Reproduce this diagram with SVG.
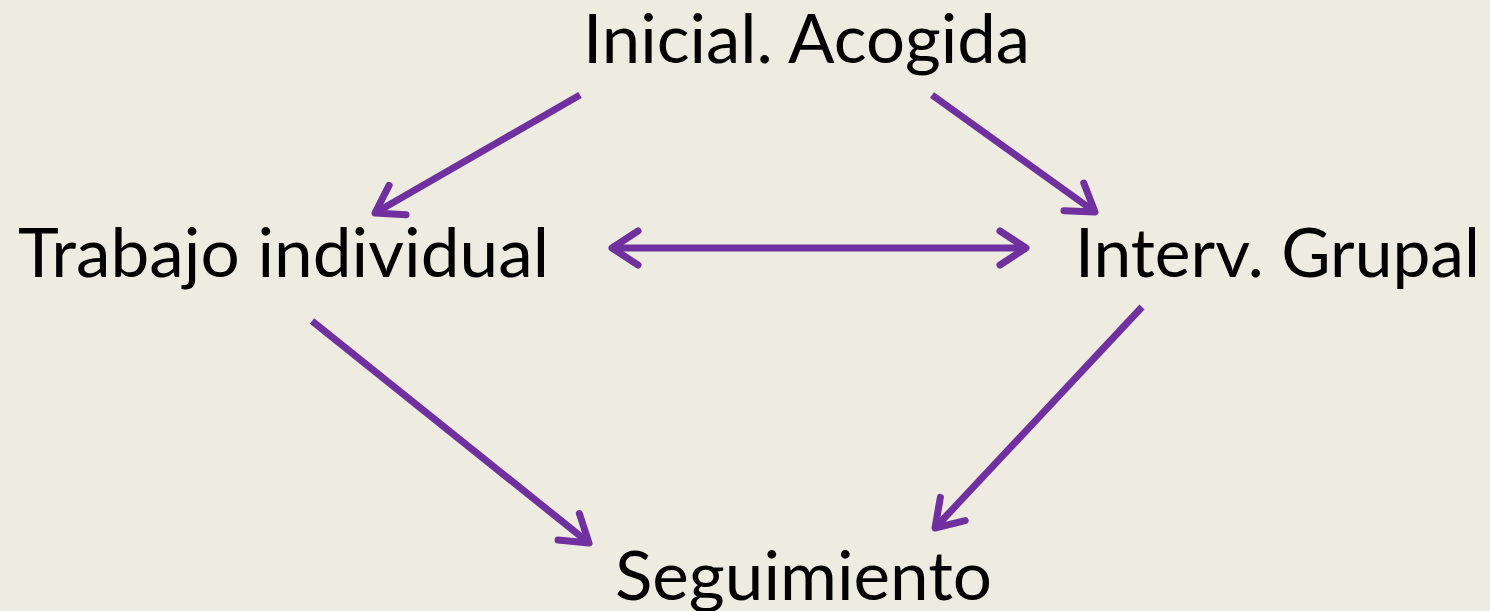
<svg xmlns="http://www.w3.org/2000/svg" width="1490" height="611" viewBox="0 0 1490 611">
<style>
.lbl{font-family:Lato,"Open Sans",sans-serif;font-size:68px;fill:#000}
.con{stroke:#7030A0;stroke-width:7;fill:none}
</style>
<defs>
<marker id="ah" markerUnits="userSpaceOnUse" markerWidth="40" markerHeight="40" refX="0" refY="0" orient="auto-start-reverse" overflow="visible">
<path d="M-26,-17 L0,0 L-26,17" fill="none" stroke="#7030A0" stroke-width="7" stroke-linecap="round" stroke-linejoin="round"/>
</marker>
</defs>
<rect width="1490" height="611" fill="#EEECE1"/>
<g id="n1"><text class="lbl" x="583" y="63" textLength="447" lengthAdjust="spacingAndGlyphs">Inicial. Acogida</text></g>
<g id="n2"><text class="lbl" x="18" y="277" textLength="531" lengthAdjust="spacingAndGlyphs">Trabajo individual</text></g>
<g id="n3"><text class="lbl" x="1075" y="277" textLength="405" lengthAdjust="spacingAndGlyphs">Interv. Grupal</text></g>
<g id="n4"><text class="lbl" x="615" y="600" textLength="377" lengthAdjust="spacingAndGlyphs">Seguimiento</text></g>
<g id="connectors">
<line class="con" x1="580" y1="95" x2="375" y2="213" marker-end="url(#ah)"/>
<line class="con" x1="932" y1="95" x2="1095" y2="212" marker-end="url(#ah)"/>
<line class="con" x1="612" y1="248" x2="1026" y2="248" marker-start="url(#ah)" marker-end="url(#ah)"/>
<line class="con" x1="312" y1="321" x2="589" y2="543" marker-end="url(#ah)"/>
<line class="con" x1="1142" y1="307" x2="935" y2="528" marker-end="url(#ah)"/>
</g>
</svg>
